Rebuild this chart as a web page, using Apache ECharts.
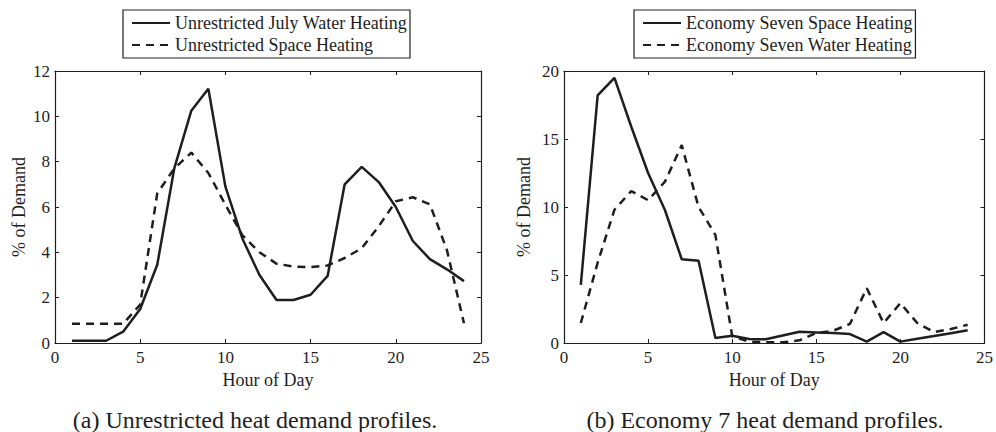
<!DOCTYPE html>
<html>
<head>
<meta charset="UTF-8">
<style>
  html, body { margin: 0; padding: 0; background: #fff; }
  #main { width: 996px; height: 432px; }
</style>
</head>
<body>
<div id="main"></div>
<script src="https://cdn.jsdelivr.net/npm/echarts/dist/echarts.min.js"></script>
<script type="text/javascript">
// hour of day, 1..24
var hours = [1, 2, 3, 4, 5, 6, 7, 8, 9, 10, 11, 12, 13, 14, 15, 16, 17, 18, 19, 20, 21, 22, 23, 24];

// (a) unrestricted profiles, % of demand
var unrWater = [0.1, 0.1, 0.1, 0.5, 1.5, 3.45, 7.7, 10.25, 11.22, 6.9, 4.6, 3.0,
                1.9, 1.9, 2.13, 2.96, 7.0, 7.77, 7.1, 6.0, 4.5, 3.7, 3.25, 2.73];
var unrSpace = [0.85, 0.85, 0.85, 0.85, 1.7, 6.6, 7.7, 8.4, 7.5, 6.1, 4.75, 4.0,
                3.5, 3.37, 3.35, 3.42, 3.75, 4.18, 5.15, 6.25, 6.43, 6.12, 4.1, 0.87];

// (b) economy 7 profiles, % of demand
var e7Space = [4.28, 18.2, 19.5, 15.9, 12.5, 9.78, 6.16, 6.04, 0.37, 0.54, 0.29, 0.27,
               0.55, 0.83, 0.78, 0.73, 0.66, 0.1, 0.8, 0.1, 0.32, 0.51, 0.72, 0.93];
var e7Water = [1.47, 5.9, 9.8, 11.17, 10.5, 11.86, 14.55, 10.0, 7.95, 0.5, 0.1, 0.05,
               0.05, 0.2, 0.73, 0.9, 1.4, 4.03, 1.47, 2.93, 1.47, 0.8, 1.03, 1.34];

var names = ['Unrestricted July Water Heating', 'Unrestricted Space Heating',
             'Economy Seven Space Heating', 'Economy Seven Water Heating'];
var captions = ['(a) Unrestricted heat demand profiles.', '(b) Economy 7 heat demand profiles.'];

var FONT = '"Liberation Serif", "Times New Roman", serif';
var INK = '#1e1e1e';

function pairs(vals) {
  return hours.map(function (h, i) { return [h, vals[i]]; });
}

// bottom/left axes carry labels, top/right only draw the frame + inner ticks
function xAxes(grid) {
  var base = {
    type: 'value', gridIndex: grid, min: 0, max: 25, interval: 5,
    axisLine: { onZero: false, lineStyle: { color: INK, width: 1.2 } },
    axisTick: { inside: true, length: 4, lineStyle: { color: INK } },
    splitLine: { show: false }
  };
  var bottom = echarts.util.merge({
    position: 'bottom',
    name: 'Hour of Day', nameLocation: 'middle', nameGap: 23,
    nameTextStyle: { fontFamily: FONT, fontSize: 18, color: INK },
    axisLabel: { fontFamily: FONT, fontSize: 17, color: INK, margin: 6 }
  }, base, true);
  var top = echarts.util.merge({ position: 'top', axisLabel: { show: false } }, base, true);
  return [bottom, top];
}

function yAxes(grid, max, interval, gap) {
  var base = {
    type: 'value', gridIndex: grid, min: 0, max: max, interval: interval,
    axisLine: { show: true, onZero: false, lineStyle: { color: INK, width: 1.2 } },
    axisTick: { show: true, inside: true, length: 4, lineStyle: { color: INK } },
    splitLine: { show: false }
  };
  var left = echarts.util.merge({
    position: 'left',
    name: '% of Demand', nameLocation: 'middle', nameGap: gap,
    nameTextStyle: { fontFamily: FONT, fontSize: 18, color: INK },
    axisLabel: { fontFamily: FONT, fontSize: 17, color: INK, margin: 5 }
  }, base, true);
  var right = echarts.util.merge({ position: 'right', axisLabel: { show: false } }, base, true);
  return [left, right];
}

function line(name, vals, grid, dashed) {
  return {
    name: name, type: 'line', xAxisIndex: grid * 2, yAxisIndex: grid * 2,
    data: pairs(vals), symbol: 'none', showSymbol: false,
    lineStyle: { color: INK, width: 2.5, type: dashed ? [8, 6] : 'solid' },
    itemStyle: { color: INK }
  };
}

function legend(left, data) {
  return {
    orient: 'vertical', left: left, top: 10,
    data: data,
    itemWidth: 38, itemHeight: 14, itemGap: 4,
    padding: [4, 3, 4, 8],
    borderColor: INK, borderWidth: 1.2, borderRadius: 0,
    // hide the marker dot, keep only the line sample
    itemStyle: { color: 'rgba(0,0,0,0)', borderWidth: 0, opacity: 0 },
    textStyle: { fontFamily: FONT, fontSize: 18, color: INK, lineHeight: 18 },
    selectedMode: false
  };
}

var chart = echarts.init(document.getElementById('main'), null, { renderer: 'svg' });

var option = {
  animation: false,
  backgroundColor: '#fff',
  grid: [
    { left: 55, top: 71, width: 426, height: 272 },
    { left: 564, top: 71, width: 425, height: 272 }
  ],
  xAxis: xAxes(0).concat(xAxes(1)),
  yAxis: yAxes(0, 12, 2, 27).concat(yAxes(1, 20, 5, 31)),
  legend: [
    legend(123, [names[0], names[1]]),
    legend(634, [names[2], names[3]])
  ],
  series: [
    line(names[0], unrWater, 0, false),
    line(names[1], unrSpace, 0, true),
    line(names[2], e7Space, 1, false),
    line(names[3], e7Water, 1, true)
  ],
  graphic: [
    { type: 'text', x: 255, y: 420,
      style: { text: captions[0], font: '24px ' + FONT, fill: INK, textAlign: 'center', textVerticalAlign: 'middle' } },
    { type: 'text', x: 765, y: 420,
      style: { text: captions[1], font: '24px ' + FONT, fill: INK, textAlign: 'center', textVerticalAlign: 'middle' } }
  ]
};

chart.setOption(option);
</script>
</body>
</html>
